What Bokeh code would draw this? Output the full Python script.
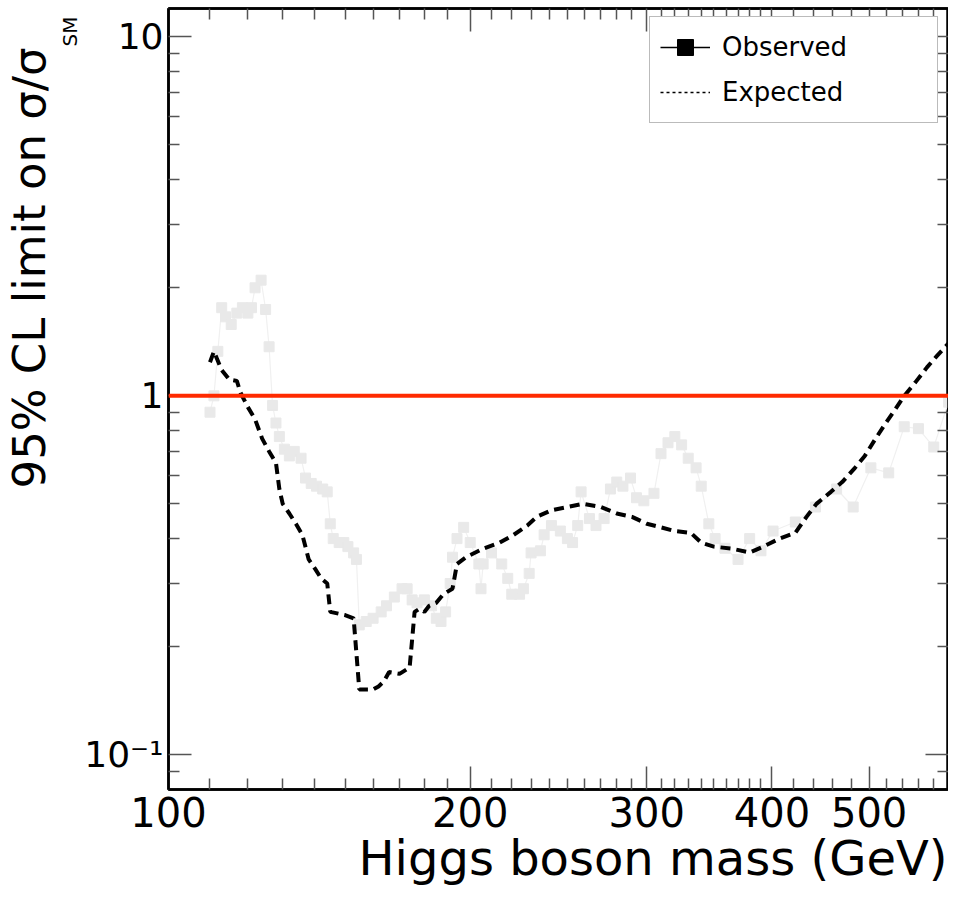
import math
from bokeh.plotting import figure
from bokeh.models import (Range1d, FixedTicker, LogAxis, Span, Legend, LegendItem, Title,
                          ColumnDataSource)
from bokeh.embed import file_html
from bokeh.resources import INLINE

# ---------------- data ----------------
obs_mass = [110, 111, 112, 113, 114, 115.5, 117, 118.5, 120, 121, 122, 123.7, 125, 126, 127, 128, 129,
            130.5, 132, 133.5, 135.6, 137, 138.8, 140.5, 142.5, 144, 145, 146, 148, 149.6, 151, 153, 154,
            155, 157.5, 160, 163, 165, 168, 171, 173, 175, 177, 180, 183, 185, 187, 189, 191, 192, 194,
            197, 200, 204, 205, 206, 210, 215, 218, 220, 224, 226, 229, 230, 235, 237, 241, 246, 250,
            253, 256, 258, 263, 267, 272, 276, 280, 284, 289, 293, 298, 305, 310, 315, 320, 325, 330,
            336, 340, 346, 351, 359, 370, 380, 390, 401, 422, 442, 464, 482, 502, 523, 542, 560, 580, 600]
obs_limit = [0.90, 1.00, 1.33, 1.76, 1.66, 1.58, 1.70, 1.76, 1.70, 1.76, 2.00, 2.10, 1.74, 1.37, 0.94, 0.84, 0.77,
             0.71, 0.68, 0.70, 0.67, 0.59, 0.57, 0.56, 0.55, 0.54, 0.44, 0.40, 0.39, 0.39, 0.38, 0.365, 0.35,
             0.23, 0.235, 0.24, 0.25, 0.26, 0.275, 0.29, 0.29, 0.27, 0.265, 0.27, 0.26, 0.24, 0.235, 0.25, 0.30, 0.355, 0.40,
             0.43, 0.39, 0.34, 0.29, 0.34, 0.365, 0.34, 0.31, 0.28, 0.28, 0.29, 0.32, 0.365, 0.37, 0.41, 0.435, 0.42, 0.40,
             0.39, 0.435, 0.54, 0.455, 0.435, 0.455, 0.55, 0.575, 0.56, 0.59, 0.52, 0.51, 0.535, 0.69, 0.74, 0.77, 0.73, 0.67,
             0.63, 0.56, 0.44, 0.40, 0.376, 0.35, 0.40, 0.37, 0.42, 0.445, 0.49, 0.55, 0.49, 0.63, 0.61, 0.82, 0.81, 0.72, 0.96]

exp_mass = [110, 111, 113, 115, 117, 118, 120, 122, 124, 126, 128, 129, 130, 132, 134, 136, 138, 140, 142, 144,
            145, 150, 153, 155, 160, 162, 164, 166, 170, 174, 176, 178, 180, 182, 185, 188, 192, 194, 198,
            206, 214, 221, 228, 233, 241, 250, 259, 270, 280, 290, 300, 310, 320, 332, 340, 350, 365, 380,
            392, 407, 422, 433, 443, 458, 470, 484, 495, 506, 518, 530, 542, 556, 571, 584, 600]
exp_limit = [1.24, 1.33, 1.18, 1.11, 1.10, 1.02, 0.93, 0.86, 0.76, 0.70, 0.65, 0.55, 0.50, 0.47, 0.44, 0.41, 0.35, 0.33, 0.31, 0.30,
             0.25, 0.245, 0.24, 0.152, 0.152, 0.155, 0.16, 0.17, 0.168, 0.175, 0.25, 0.255, 0.25, 0.26, 0.265, 0.28, 0.29, 0.34, 0.355,
             0.375, 0.39, 0.41, 0.435, 0.46, 0.48, 0.49, 0.50, 0.49, 0.47, 0.46, 0.44, 0.43, 0.42, 0.415, 0.39, 0.38, 0.375, 0.366,
             0.38, 0.40, 0.415, 0.46, 0.50, 0.54, 0.575, 0.63, 0.68, 0.75, 0.83, 0.91, 1.00, 1.09, 1.20, 1.29, 1.40]

sm_level = 1.0

x_major = [100, 200, 300, 400, 500]
x_minor = [110, 120, 130, 140, 150, 160, 170, 180, 190, 210, 220, 230, 240, 250, 260, 270, 280, 290,
           310, 320, 330, 340, 350, 360, 370, 380, 390, 420, 440, 460, 480, 520, 540, 560, 580]
x_labels = ["100", "200", "300", "400", "500"]
y_major = [0.1, 1, 10]
y_minor = [0.09, 0.2, 0.3, 0.4, 0.5, 0.6, 0.7, 0.8, 0.9, 2, 3, 4, 5, 6, 7, 8, 9]
y_labels = ["10\u207b\u00b9", "1", "10"]

x_title = "Higgs boson mass (GeV)"
y_title = "95% CL limit on \u03c3/\u03c3"
y_title_sub = "SM"

FONT = "'DejaVu Sans', 'Noto Sans', sans-serif"

p = figure(width=948, height=896, x_axis_type="log", y_axis_type="log",
           x_range=Range1d(100, 600), y_range=Range1d(0.08, 12),
           output_backend="svg", toolbar_location=None,
           min_border_left=164, min_border_right=0, min_border_top=8, min_border_bottom=107)
p.grid.visible = False
p.outline_line_color = "black"
p.outline_line_width = 2.5
p.background_fill_color = "white"
p.border_fill_color = "white"

top_axis = LogAxis()
right_axis = LogAxis()
p.add_layout(top_axis, "above")
p.add_layout(right_axis, "right")


def style_axis(ax, major, minor):
    ax.ticker = FixedTicker(ticks=major, minor_ticks=minor)
    ax.axis_line_color = "black"
    ax.axis_line_width = 2.5
    ax.major_tick_in = 23
    ax.major_tick_out = 0
    ax.minor_tick_in = 11
    ax.minor_tick_out = 0
    ax.major_tick_line_color = "#555555"
    ax.minor_tick_line_color = "#555555"
    ax.major_tick_line_width = 1.5
    ax.minor_tick_line_width = 1.5


for ax in p.xaxis:
    style_axis(ax, x_major, x_minor)
for ax in p.yaxis:
    style_axis(ax, y_major, y_minor)

bx = p.below[0]
bx.major_label_overrides = dict(zip(x_major, x_labels))
bx.major_label_text_font = FONT
bx.major_label_text_font_size = "40px"
bx.major_label_text_color = "black"
bx.major_label_standoff = 7

ly = p.left[0]
ly.major_label_overrides = dict(zip(y_major, y_labels))
ly.major_label_text_font = FONT
ly.major_label_text_font_size = "36px"
ly.major_label_text_color = "black"
ly.major_label_standoff = 5

top_axis.major_label_overrides = {t: "" for t in x_major}
top_axis.major_label_text_font_size = "0px"
top_axis.major_label_standoff = 0
right_axis.major_label_overrides = {t: "" for t in y_major}
right_axis.major_label_text_font_size = "0px"
right_axis.major_label_standoff = 0

# observed (drawn very faint as in the reference)
obs_src = ColumnDataSource(dict(mass=obs_mass, limit=obs_limit))
p.line("mass", "limit", source=obs_src, line_color="#f0f0f0", line_width=1.2)
p.scatter("mass", "limit", source=obs_src, marker="square", size=10,
          fill_color="#e9e9e9", line_color="#e9e9e9")

# expected
exp_src = ColumnDataSource(dict(mass=exp_mass, limit=exp_limit))
p.line("mass", "limit", source=exp_src, line_color="black", line_width=4, line_dash="10 6")

# SM line
p.add_layout(Span(location=sm_level, dimension="width", line_color="#ff2a00", line_width=4))

# legend proxies: hidden renderers carrying the legend styles
leg_obs_line = p.line("mass", "limit", source=obs_src, line_color="black", line_width=1.5, visible=False)
leg_obs_mark = p.scatter("mass", "limit", source=obs_src, marker="square", size=9, color="black", visible=False)
leg_exp_line = p.line("mass", "limit", source=exp_src, line_color="black", line_width=1.5,
                      line_dash="3 3", visible=False)

legend = Legend(items=[LegendItem(label="Observed", renderers=[leg_obs_line, leg_obs_mark]),
                       LegendItem(label="Expected", renderers=[leg_exp_line])],
                location=(481, 666))
legend.border_line_color = "#777777"
legend.border_line_width = 1.5
legend.background_fill_color = "white"
legend.background_fill_alpha = 1.0
legend.inactive_fill_alpha = 0.0
legend.label_text_font = FONT
legend.label_text_font_size = "26px"
legend.label_text_color = "black"
legend.glyph_width = 50
legend.glyph_height = 40
legend.label_height = 40
legend.label_width = 205
legend.label_standoff = 12
legend.padding = 10
legend.spacing = 5
legend.margin = 0
p.add_layout(legend)

# axis titles as side-panel titles
p.add_layout(Title(text=x_title, align="right", offset=1, standoff=0, vertical_align="top",
                   text_font=FONT, text_font_size="48px", text_font_style="normal",
                   text_color="black"), "below")
p.add_layout(Title(text=y_title_sub, align="right", offset=8, standoff=0,
                   text_font=FONT, text_font_size="20px", text_font_style="normal",
                   text_color="black"), "left")
p.add_layout(Title(text=y_title, align="right", offset=39, standoff=0,
                   text_font=FONT, text_font_size="45px", text_font_style="normal",
                   text_color="black"), "left")

open("out.html", "w").write(file_html(p, INLINE))
